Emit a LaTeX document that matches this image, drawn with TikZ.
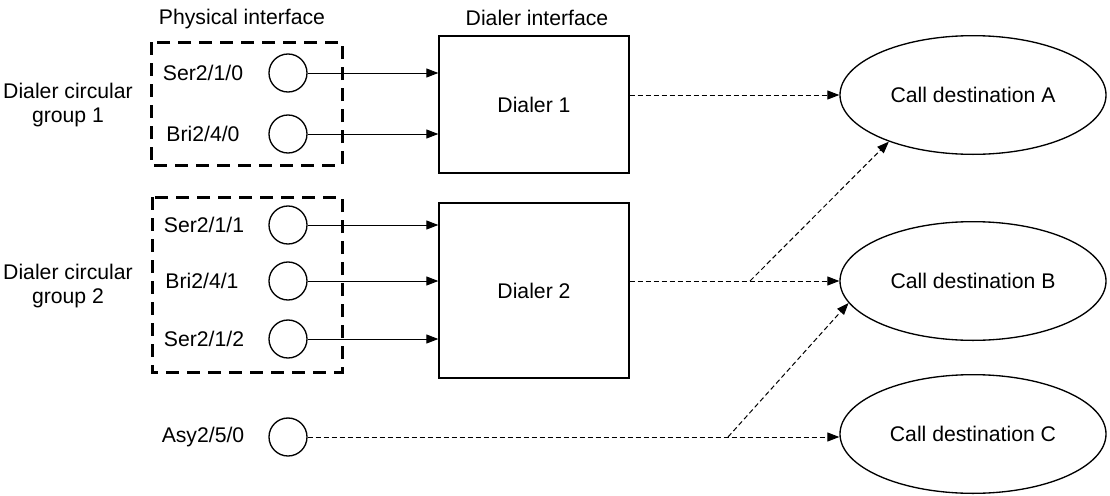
\documentclass[tikz,border=0pt]{standalone}
\usepackage{fontspec}
\setmainfont{Liberation Sans}
\usetikzlibrary{arrows.meta,shapes.geometric}

\tikzset{every picture/.style={line width=0.75pt}}
\tikzset{
  lbl/.style={font=\fontsize{15.9}{17.4}\selectfont,align=center,inner sep=0pt},
  port/.style={draw,circle,minimum size=28.5pt,inner sep=0pt,line width=1pt},
  dialerbox/.style={draw,rectangle,minimum width=142.5pt,inner sep=0pt,line width=1pt,lbl},
  dest/.style={draw,ellipse,minimum width=199.5pt,minimum height=89pt,inner sep=0pt,line width=1pt,lbl},
  grpbox/.style={line width=2.25pt,dash pattern=on 9.75pt off 6pt},
  link/.style={-{Triangle[length=9pt,width=6.75pt]}},
  dial/.style={dash pattern=on 3.75pt off 2.25pt,-{Triangle[length=9pt,width=6.75pt]}}
}

\begin{document}
\begin{tikzpicture}[x=0.75pt,y=0.75pt,yscale=-1,xscale=1]
\useasboundingbox (0,0) rectangle (1110,496);

%Shape: Dashed Rectangle (group 1)
\draw [grpbox] (151,42) rectangle (342,165);
%Shape: Dashed Rectangle (group 2)
\draw [grpbox] (152,197) rectangle (342,372);

%Shape: Circles (physical ports)
\node [port] (s210) at (288,73) {};
\node [port] (b240) at (288,134) {};
\node [port] (s211) at (288,225) {};
\node [port] (b241) at (288,281) {};
\node [port] (s212) at (288,339) {};
\node [port] (a250) at (288,437) {};

%Shape: Rectangles (dialer interfaces)
\node [dialerbox,minimum height=102.75pt] (d1) at (534,104.5) {Dialer 1};
\node [dialerbox,minimum height=131.25pt] (d2) at (534,290.5) {Dialer 2};

%Shape: Ellipses (call destinations)
\node [dest] (ca) at (973,95) {Call destination A};
\node [dest] (cb) at (973,281) {Call destination B};
\node [dest] (cc) at (973,434) {Call destination C};

% Text Node
\node [lbl] (phys) at (242,19) {Physical interface};
% Text Node
\node [lbl] (dint) at (537,18) {Dialer interface};
% Text Node
\node [lbl] (grp1) at (68,105) {Dialer circular\\group 1};
% Text Node
\node [lbl] (grp2) at (68,286) {Dialer circular\\group 2};
% Text Node
\node [lbl] (ls210) at (203,73) {Ser2/1/0};
\node [lbl] (lb240) at (203,134) {Bri2/4/0};
\node [lbl] (ls211) at (204,225) {Ser2/1/1};
\node [lbl] (lb241) at (202,281) {Bri2/4/1};
\node [lbl] (ls212) at (204,339) {Ser2/1/2};
\node [lbl] (la250) at (203,437) {Asy2/5/0};

%Straight Lines (ports to dialers)
\draw [link] (s210) -- (s210 -| d1.west);
\draw [link] (b240) -- (b240 -| d1.west);
\draw [link] (s211) -- (s211 -| d2.west);
\draw [link] (b241) -- (b241 -| d2.west);
\draw [link] (s212) -- (s212 -| d2.west);

%Dashed Lines (calls)
\coordinate (j2) at (750,281);
\coordinate (j3) at (728,437);
\draw [dial] (d1.east |- ca.west) -- (ca.west);
\draw [dial] (d2.east |- cb.west) -- (cb.west);
\draw [dial] (j2) -- (ca.209.5);
\draw [dial] (a250) -- (a250 -| cc.west);
\draw [dial] (j3) -- (cb.190);

\end{tikzpicture}
\end{document}
